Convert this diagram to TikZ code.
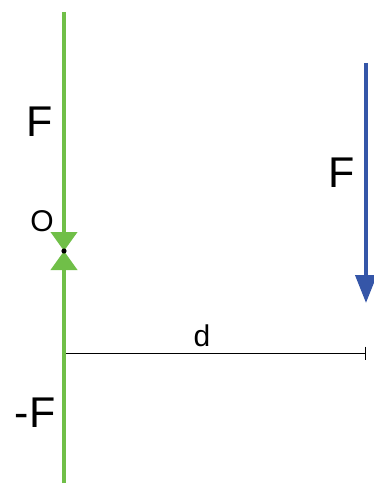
\documentclass[tikz,border=0pt]{standalone}
\usepackage{fontspec}
\setmainfont{Liberation Sans}
\usetikzlibrary{arrows.meta, positioning}
\definecolor{cgreen}{HTML}{70BF48}
\definecolor{cblue}{HTML}{3556A8}
\tikzset{
  every picture/.style={x=1pt, y=-1pt},
  force/.style={draw=#1, line width=4pt, -{Triangle[width=26pt, length=19pt]}},
  force/.default=cgreen,
  big/.style={font=\fontsize{43}{43}\selectfont, inner sep=0pt},
  small/.style={font=\fontsize{30}{30}\selectfont, inner sep=0pt},
  dim/.style={draw=black, line width=0.9pt, -{Bar[width=13pt]}},
}
\begin{document}
\begin{tikzpicture}
  \useasboundingbox (0,0) rectangle (373,484);
  % couple on the green line
  \coordinate (top) at (64,12);
  \coordinate (bot) at (64,483);
  \coordinate (O) at (64,251);
  \draw[dim] (64,353) coordinate (dl) -- (366,353) coordinate (dr);
  \draw[force] (top) -- (O);
  \draw[force] (bot) -- (O);
  \fill[black] (O) circle (2.6pt);
  % blue force
  \coordinate (btop) at (366,63);
  \coordinate (btip) at (366,303);
  \draw[force=cblue, -{Triangle[width=21pt, length=28pt]}] (btop) -- (btip);
  % labels
  \node[big] (Ftop) at (40,122) {F};
  \node[small] (Olab) at (42,221) {O};
  \node[big] (Fblue) at (342,173) {F};
  \node[small] (dlab) at (202,336) {d};
  \node[big] (Fbot) at (35,413) {-F};
\end{tikzpicture}
\end{document}
